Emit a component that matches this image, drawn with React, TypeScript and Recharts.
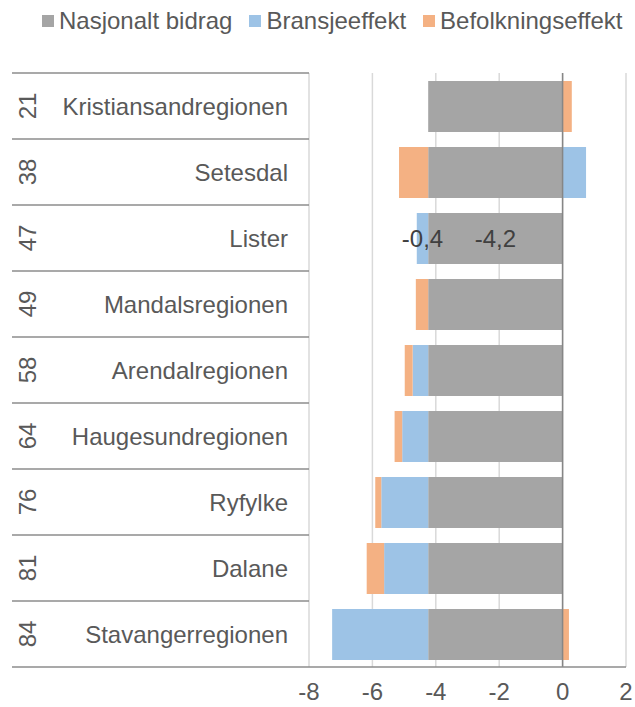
import {
  BarChart, Bar, XAxis, YAxis, CartesianGrid, ReferenceLine, Legend, LabelList,
} from 'recharts'

const regions = [
  'Kristiansandregionen', 'Setesdal', 'Lister', 'Mandalsregionen', 'Arendalregionen',
  'Haugesundregionen', 'Ryfylke', 'Dalane', 'Stavangerregionen',
]
const ranks = [21, 38, 47, 49, 58, 64, 76, 81, 84]
const nasjonalt = [-4.24, -4.24, -4.24, -4.24, -4.24, -4.24, -4.24, -4.24, -4.24]
const bransje = [0, 0.74, -0.36, 0, -0.49, -0.82, -1.48, -1.39, -3.03]
const befolkning = [0.29, -0.92, 0, -0.39, -0.25, -0.24, -0.19, -0.55, 0.2]
const xTicks = [-8, -6, -4, -2, 0, 2]
const labelledRegion = 'Lister'

const series = [
  { key: 'nasjonalt', name: 'Nasjonalt bidrag', color: '#a5a5a5' },
  { key: 'bransje', name: 'Bransjeeffekt', color: '#9dc3e6' },
  { key: 'befolkning', name: 'Befolkningseffekt', color: '#f4b183' },
]

const data = regions.map((region, i) => ({
  region,
  rank: ranks[i],
  nasjonalt: nasjonalt[i],
  bransje: bransje[i],
  befolkning: befolkning[i],
  nasjonaltLabel: region === labelledRegion ? nasjonalt[i] : null,
  bransjeLabel: region === labelledRegion ? bransje[i] : null,
}))

const W = 635
const H = 707
const M = { top: 73, right: 9, bottom: 0, left: 12 }
const X_AXIS_H = 40
const Y_AXIS_W = 297
const PLOT_H = H - M.top - M.bottom - X_AXIS_H
const HALF_BAND = PLOT_H / regions.length / 2

const FONT = '"Liberation Sans", Arial, sans-serif'
const FS = 24
const TEXT = '#595959'
const LINE = '#8c8c8c'

function fmt(v: number) {
  return v.toFixed(1).replace('.', ',')
}

function CategoryTick({ y, payload, index }: any) {
  const d = data.find(r => r.region === payload.value)
  const left = M.left
  const right = M.left + Y_AXIS_W
  return (
    <g>
      <line x1={left} x2={right} y1={y - HALF_BAND} y2={y - HALF_BAND} stroke={LINE} strokeWidth={1.5} />
      {index === regions.length - 1 && (
        <line x1={left} x2={right} y1={y + HALF_BAND} y2={y + HALF_BAND} stroke={LINE} strokeWidth={1.5} />
      )}
      <text
        x={27} y={y} transform={`rotate(-90 27 ${y})`}
        textAnchor="middle" dominantBaseline="central"
        fontSize={FS} fontFamily={FONT} fill={TEXT}
      >
        {d?.rank}
      </text>
      <text
        x={288} y={y} textAnchor="end" dominantBaseline="central"
        fontSize={FS} fontFamily={FONT} fill={TEXT}
      >
        {payload.value}
      </text>
    </g>
  )
}

function BarLabel(props: any) {
  const { x, y, width, height, value } = props
  if (value == null) return null
  return (
    <text
      x={x + width / 2} y={y + height / 2}
      textAnchor="middle" dominantBaseline="central"
      fontSize={FS} fontFamily={FONT} fill="#404040"
    >
      {fmt(value)}
    </text>
  )
}

function LegendContent() {
  return (
    <div style={{ display: 'flex', alignItems: 'center', fontFamily: FONT, fontSize: FS, color: TEXT, whiteSpace: 'nowrap' }}>
      {series.map((s, i) => (
        <div key={s.key} style={{ display: 'flex', alignItems: 'center', marginLeft: i === 0 ? 0 : 17 }}>
          <span style={{ width: 12, height: 12, background: s.color, marginRight: 5, display: 'inline-block' }} />
          <span style={{ lineHeight: '28px' }}>{s.name}</span>
        </div>
      ))}
    </div>
  )
}

export default function App() {
  return (
    <div style={{ position: 'absolute', left: 0, top: 0, width: W, height: H, background: '#fff' }}>
      <BarChart
        width={W} height={H} data={data} layout="vertical"
        stackOffset="sign" margin={M}
      >
        <CartesianGrid horizontal={false} stroke="#d9d9d9" strokeWidth={1.5} />
        <XAxis
          type="number" domain={[-8, 2]} ticks={xTicks} height={X_AXIS_H}
          axisLine={{ stroke: LINE, strokeWidth: 1.5 }} tickLine={false} tickMargin={10}
          tick={{ fontSize: FS, fill: TEXT, fontFamily: FONT }}
          tickFormatter={(v: number) => `${v}`}
        />
        <YAxis
          type="category" dataKey="region" width={Y_AXIS_W}
          axisLine={false} tickLine={false} tick={<CategoryTick />} interval={0}
        />
        <Legend
          verticalAlign="middle" align="center"
          wrapperStyle={{ top: 7, left: 42, width: 'auto' }}
          content={<LegendContent />}
        />
        {series.map(s => (
          <Bar
            key={s.key} dataKey={s.key} name={s.name} stackId="a" fill={s.color}
            barSize={51} isAnimationActive={false}
          >
            {s.key !== 'befolkning' && (
              <LabelList dataKey={`${s.key}Label`} content={<BarLabel />} />
            )}
          </Bar>
        ))}
        <ReferenceLine x={0} stroke="#868686" strokeWidth={1.5} />
      </BarChart>
    </div>
  )
}
